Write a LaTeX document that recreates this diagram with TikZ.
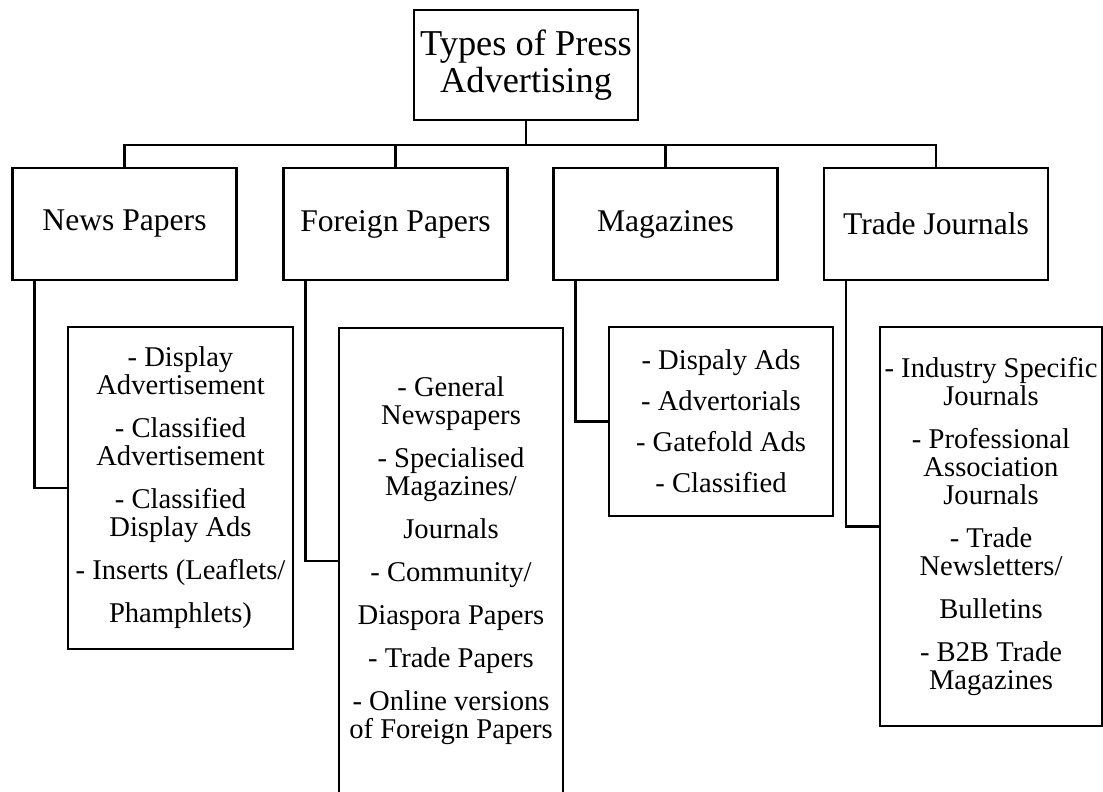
\documentclass[tikz,border=0pt]{standalone}
\usepackage{fontspec}
\setmainfont{Liberation Serif}

\begin{document}
\begin{tikzpicture}[line width=1.2pt,x=0.5pt,y=-0.5pt,
    head/.style={draw,inner sep=0pt,minimum width=112pt,minimum height=56pt,font=\fontsize{15.8}{18}\selectfont},
    items/.style={draw,inner sep=0pt,minimum width=112pt,align=center,font=\fontsize{14.3}{14}\selectfont}]
    \useasboundingbox (0,0) rectangle (1103,792);
    \clip (0,0) rectangle (1103,792);
    \node [head,align=center,minimum height=55pt,font=\fontsize{18.2}{18.5}\selectfont] (types) at (526,65) {Types of Press\\Advertising};
    \node [head] (news) at (124.5,224) {News Papers};
    \node [head] (foreign) at (395.5,224) {Foreign Papers};
    \node [head] (magazines) at (665.5,224) {Magazines};
    \node [head] (trade) at (936,224) {Trade Journals};
    \coordinate (fork) at (526,145);
    \draw (types.south) -- (fork);
    \draw (news.north) |- (fork) -| (trade.north);
    \draw (foreign.north) -- (foreign.north |- fork);
    \draw (magazines.north) -- (magazines.north |- fork);
    \node [items,minimum width=112.5pt,minimum height=161pt] (newsitems) at (180.5,488) {- Display\\Advertisement\\[7.5pt]- Classified\\Advertisement\\[7.5pt]- Classified\\Display Ads\\[7.5pt]- Inserts (Leaflets/\\[7.5pt]Phamphlets)};
    \node [items,minimum height=233pt] (foreignitems) at (451,561) {- General\\Newspapers\\[7.5pt]- Specialised\\Magazines/\\[7.5pt]Journals\\[7.5pt]- Community/\\[7.5pt]Diaspora Papers\\[7.5pt]- Trade Papers\\[7.5pt]- Online versions\\of Foreign Papers};
    \node [items,minimum height=94.5pt] (magazineitems) at (721,421.5) {- Dispaly Ads\\[6.5pt]- Advertorials\\[6.5pt]- Gatefold Ads\\[6.5pt]- Classified};
    \node [items,minimum width=111pt,minimum height=199.5pt] (tradeitems) at (991,526.5) {- Industry Specific\\Journals\\[7.5pt]- Professional\\Association\\Journals\\[7.5pt]- Trade\\Newsletters/\\[7.5pt]Bulletins\\[7.5pt]- B2B Trade\\Magazines};
    \draw ([xshift=11.5pt]news.south west) |- (newsitems.west);
    \draw ([xshift=11.5pt]foreign.south west) |- (foreignitems.west);
    \draw ([xshift=11.5pt]magazines.south west) |- (magazineitems.west);
    \draw ([xshift=11.5pt]trade.south west) |- (tradeitems.west);
\end{tikzpicture}
\end{document}
